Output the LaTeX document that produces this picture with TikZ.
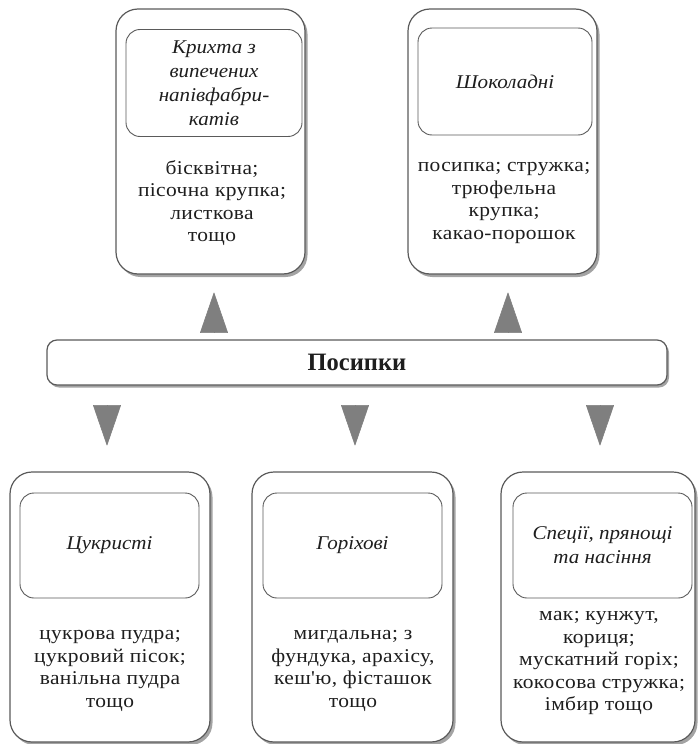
\documentclass[tikz,border=0pt]{standalone}
\usepackage{fontspec}
\setmainfont{Liberation Serif}
\newfontfamily\bodyfont[FakeStretch=1.1,LetterSpace=2]{Liberation Serif}
\newfontfamily\headfont[FakeStretch=1.08]{Liberation Serif}
\newfontfamily\barfont[FakeStretch=0.98]{Liberation Serif}
\usetikzlibrary{shadows,arrows.meta,calc}

\definecolor{frame}{HTML}{5A5A5A}
\definecolor{tipgray}{HTML}{7F7F7F}
\definecolor{ink}{HTML}{1E1E1E}

\tikzset{
  outerbox/.style={draw=frame, line width=1.2pt, rounded corners=22pt, fill=white,
    inner sep=0pt,
    drop shadow={shadow xshift=2.5pt, shadow yshift=-3pt, fill=black!60, opacity=0.6}},
  innerbox/.style={draw=frame, line width=0.9pt, rounded corners=14pt, fill=white,
    inner sep=0pt, align=center, text=ink,
    font=\headfont\itshape\fontsize{19.5}{24}\selectfont},
  bodytext/.style={align=center, inner sep=0pt, text=ink,
    font=\bodyfont\fontsize{19.5}{22.5}\selectfont},
  barbox/.style={draw=frame, line width=1.2pt, rounded corners=10pt, fill=white,
    inner sep=0pt, text=ink, font=\barfont\bfseries\fontsize{25}{30}\selectfont,
    drop shadow={shadow xshift=2pt, shadow yshift=-2.5pt, fill=black!60, opacity=0.6}},
  uptip/.style={draw=tipgray, fill=tipgray, line width=0.6pt,
    -{Triangle[length=41pt,width=28pt,round]},
    shorten <=7pt, shorten >=18pt},
  downtip/.style={draw=tipgray, fill=tipgray, line width=0.6pt,
    -{Triangle[length=41pt,width=28pt,round]},
    shorten <=20pt, shorten >=26pt}
}

\begin{document}
\begin{tikzpicture}[x=1pt,y=-1pt]
\useasboundingbox (0,0) rectangle (697,744);

% central bar
\node[barbox, minimum width=620pt, minimum height=45pt] (bar) at (357,362.5) {Посипки};

% upper row
\node[outerbox, minimum width=189pt, minimum height=265pt] (tl) at (210.5,141.5) {};
\node[innerbox, minimum width=176pt, minimum height=107pt] (tlh) at (214,83)
  {Крихта з\\випечених\\напівфабри-\\катів};
\node[bodytext] (tlb) at (212,203) {бісквітна;\\пісочна крупка;\\листкова\\тощо};

\node[outerbox, minimum width=189pt, minimum height=265pt] (tr) at (502.5,141.5) {};
\node[innerbox, minimum width=174pt, minimum height=107pt] (trh) at (505,81.5) {Шоколадні};
\node[bodytext] (trb) at (504,203) {посипка; стружка;\\трюфельна\\крупка;\\какао-порошок};

% lower row
\node[outerbox, minimum width=200pt, minimum height=270pt] (ll) at (110,607) {};
\node[innerbox, minimum width=179pt, minimum height=105pt] (llh) at (109.5,545.5) {Цукристі};
\node[bodytext] (llb) at (110,671) {цукрова пудра;\\цукровий пісок;\\ванільна пудра\\тощо};

\node[outerbox, minimum width=201pt, minimum height=270pt] (lm) at (352.5,607) {};
\node[innerbox, minimum width=179pt, minimum height=105pt] (lmh) at (352.5,545.5) {Горіхові};
\node[bodytext] (lmb) at (353,671) {мигдальна; з\\фундука, арахісу,\\кеш'ю, фісташок\\тощо};

\node[outerbox, minimum width=194pt, minimum height=270pt] (lr) at (598,607) {};
\node[innerbox, minimum width=179pt, minimum height=105pt] (lrh) at (602.5,545.5) {Спеції, прянощі\\та насіння};
\node[bodytext] (lrb) at (599,663) {мак; кунжут,\\кориця;\\мускатний горіх;\\кокосова стружка;\\імбир тощо};

% arrow columns
\coordinate (c1) at (214,0);
\coordinate (c2) at (508,0);
\coordinate (c3) at (107,0);
\coordinate (c4) at (355,0);
\coordinate (c5) at (600,0);

\draw[uptip] (bar.north -| c1) -- (tl.south -| c1);
\draw[uptip] (bar.north -| c2) -- (tr.south -| c2);
\draw[downtip] (bar.south -| c3) -- (ll.north -| c3);
\draw[downtip] (bar.south -| c4) -- (lm.north -| c4);
\draw[downtip] (bar.south -| c5) -- (lr.north -| c5);
\end{tikzpicture}
\end{document}
